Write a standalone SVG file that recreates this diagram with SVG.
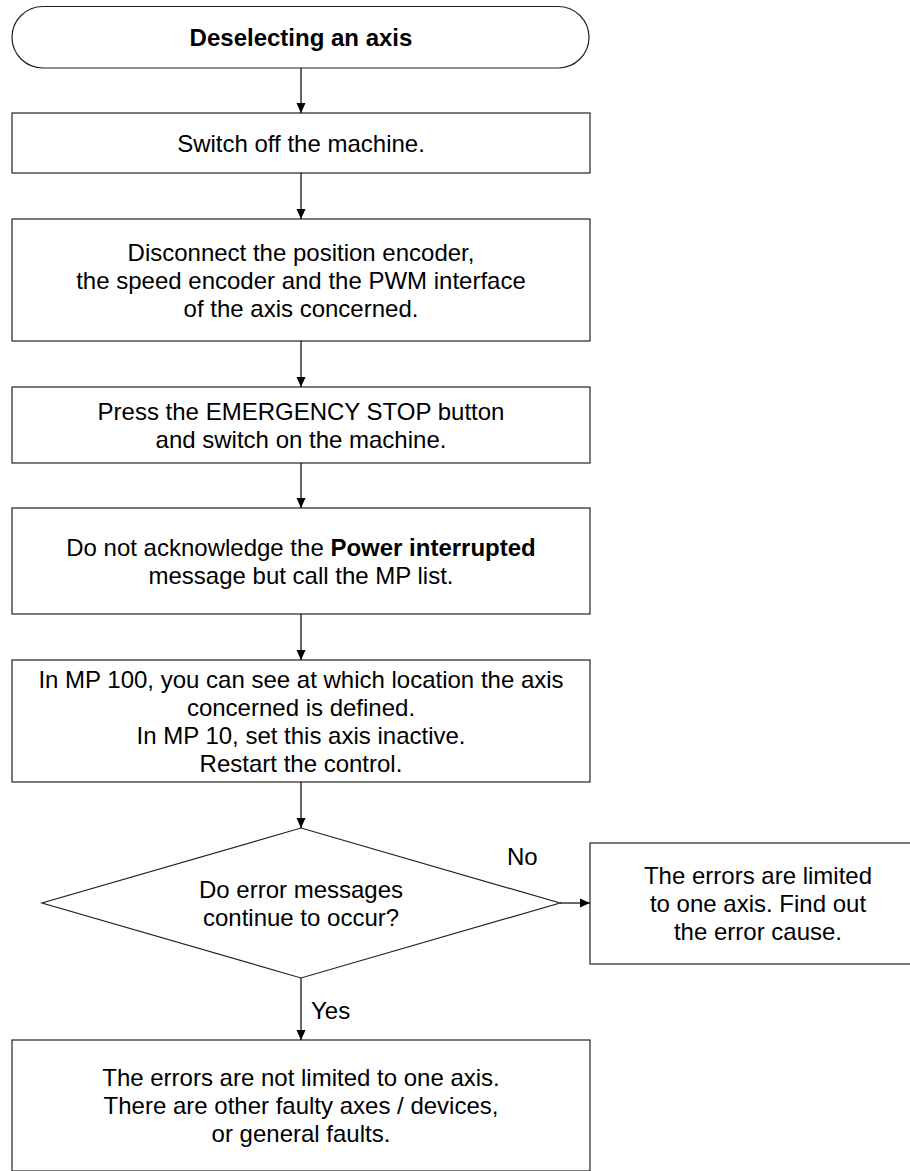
<svg xmlns="http://www.w3.org/2000/svg" width="910" height="1171" viewBox="0 0 910 1171">
<style>
  .shape { fill: #ffffff; stroke: #222222; stroke-width: 1.2; }
  .t { font-family: "Liberation Sans", Arial, sans-serif; font-size: 24px; fill: #000000; text-anchor: middle; }
  .b { font-weight: bold; }
  .lbl { font-family: "Liberation Sans", Arial, sans-serif; font-size: 24px; fill: #000000; }
  .conn { fill: none; stroke: #000000; stroke-width: 1.2; marker-end: url(#arrow); }
</style>
<defs>
  <marker id="arrow" markerUnits="userSpaceOnUse" markerWidth="10" markerHeight="11" refX="11" refY="5" orient="auto" viewBox="0 0 11 10">
    <path d="M0,0 L11,5 L0,10 z" fill="#000000"/>
  </marker>
</defs>
<rect width="910" height="1171" fill="#ffffff"/>

<g id="start">
  <rect class="shape" x="12" y="6.5" width="577" height="61.5" rx="31" ry="31"/>
  <text class="t b" x="301" y="45.5">Deselecting an axis</text>
</g>

<g id="switch-off">
  <rect class="shape" x="12" y="113" width="578" height="60"/>
  <text class="t" x="301" y="151.5">Switch off the machine.</text>
</g>

<g id="disconnect">
  <rect class="shape" x="12" y="219" width="578" height="122"/>
  <text class="t" x="301" y="260.5">Disconnect the position encoder,</text>
  <text class="t" x="301" y="288.5">the speed encoder and the PWM interface</text>
  <text class="t" x="301" y="316.5">of the axis concerned.</text>
</g>

<g id="emergency-stop">
  <rect class="shape" x="12" y="387" width="578" height="76"/>
  <text class="t" x="301" y="419.5">Press the EMERGENCY STOP button</text>
  <text class="t" x="301" y="447.5">and switch on the machine.</text>
</g>

<g id="acknowledge">
  <rect class="shape" x="12" y="508" width="578" height="106"/>
  <text class="t" x="301" y="555.5">Do not acknowledge the <tspan class="b">Power interrupted</tspan></text>
  <text class="t" x="301" y="583.5">message but call the MP list.</text>
</g>

<g id="mp-settings">
  <rect class="shape" x="12" y="660" width="578" height="122"/>
  <text class="t" x="301" y="687.5">In MP 100, you can see at which location the axis</text>
  <text class="t" x="301" y="715.5">concerned is defined.</text>
  <text class="t" x="301" y="743.5">In MP 10, set this axis inactive.</text>
  <text class="t" x="301" y="771.5">Restart the control.</text>
</g>

<g id="decision">
  <polygon class="shape" points="301,828 560,903 301,978 42,903"/>
  <text class="t" x="301" y="897.5">Do error messages</text>
  <text class="t" x="301" y="925.5">continue to occur?</text>
</g>

<g id="limited-one">
  <rect class="shape" x="590" y="843" width="336" height="121"/>
  <text class="t" x="758" y="884">The errors are limited</text>
  <text class="t" x="758" y="912">to one axis. Find out</text>
  <text class="t" x="758" y="940">the error cause.</text>
</g>

<g id="not-limited">
  <rect class="shape" x="12" y="1040" width="578" height="131"/>
  <text class="t" x="301" y="1086">The errors are not limited to one axis.</text>
  <text class="t" x="301" y="1114">There are other faulty axes / devices,</text>
  <text class="t" x="301" y="1142">or general faults.</text>
</g>

<g id="connectors">
  <line class="conn" x1="301" y1="68" x2="301" y2="113"/>
  <line class="conn" x1="301" y1="173" x2="301" y2="219"/>
  <line class="conn" x1="301" y1="341" x2="301" y2="387"/>
  <line class="conn" x1="301" y1="463" x2="301" y2="508"/>
  <line class="conn" x1="301" y1="614" x2="301" y2="660"/>
  <line class="conn" x1="301" y1="782" x2="301" y2="828"/>
  <line class="conn" x1="560" y1="903" x2="590" y2="903"/>
  <line class="conn" x1="301" y1="978" x2="301" y2="1040"/>
  <text class="lbl" x="507" y="865">No</text>
  <text class="lbl" x="311" y="1019">Yes</text>
</g>
</svg>
